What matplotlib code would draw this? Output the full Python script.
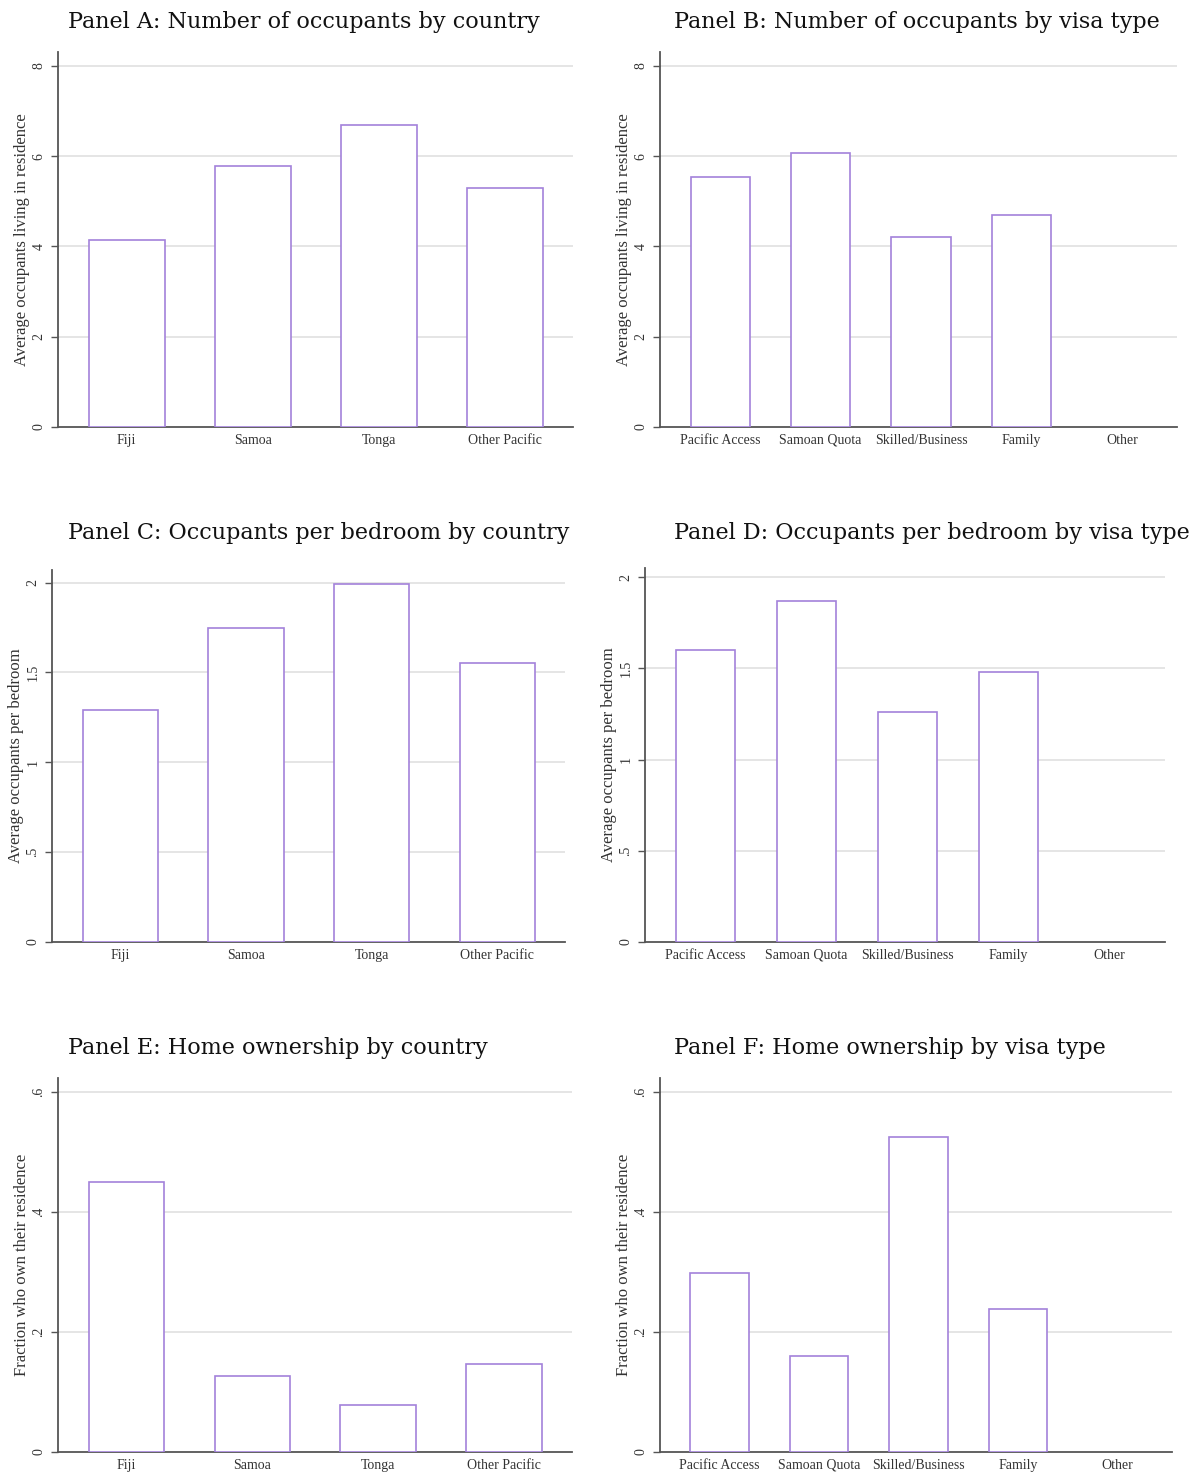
import matplotlib
matplotlib.use("Agg")
import matplotlib.pyplot as plt

# categorias
paises = ["Fiji", "Samoa", "Tonga", "Other Pacific"]
visas = ["Pacific Access", "Samoan Quota", "Skilled/Business", "Family", "Other"]

# valores
ocup_pais = [4.15, 5.79, 6.70, 5.30]
ocup_visa = [5.54, 6.08, 4.21, 4.70, 0.0]
dorm_pais = [1.29, 1.75, 1.99, 1.55]
dorm_visa = [1.60, 1.87, 1.26, 1.48, 0.0]
prop_pais = [0.450, 0.127, 0.078, 0.147]
prop_visa = [0.298, 0.160, 0.525, 0.238, 0.0]

titulos = ["Panel A: Number of occupants by country",
           "Panel B: Number of occupants by visa type",
           "Panel C: Occupants per bedroom by country",
           "Panel D: Occupants per bedroom by visa type",
           "Panel E: Home ownership by country",
           "Panel F: Home ownership by visa type"]
ylabels = ["Average occupants living in residence",
           "Average occupants living in residence",
           "Average occupants per bedroom",
           "Average occupants per bedroom",
           "Fraction who own their residence",
           "Fraction who own their residence"]
yticks = [[0, 2, 4, 6, 8], [0, 2, 4, 6, 8],
          [0, 0.5, 1, 1.5, 2], [0, 0.5, 1, 1.5, 2],
          [0, 0.2, 0.4, 0.6], [0, 0.2, 0.4, 0.6]]
yticklabels = [["0", "2", "4", "6", "8"], ["0", "2", "4", "6", "8"],
               ["0", ".5", "1", "1.5", "2"], ["0", ".5", "1", "1.5", "2"],
               ["0", ".2", ".4", ".6"], ["0", ".2", ".4", ".6"]]
ytops = [8.31, 8.31, 2.07, 2.05, 0.623, 0.623]

W, H = 1197, 1475
# cajas de ejes en pixeles: izq, der, arriba, abajo
cajas = [(58, 573, 52, 427), (660, 1177, 52, 427),
         (52, 565, 570, 942), (645, 1165, 568, 942),
         (58, 572, 1078, 1452), (660, 1172, 1078, 1452)]
titulo_x = [68, 674, 68, 674, 68, 674]
titulo_y = [22, 22, 533, 533, 1048, 1048]

PURPURA = "#a382da"
SERIF = "Liberation Serif"

fig = plt.figure(figsize=(W / 100, H / 100), dpi=100)

datos = [ocup_pais, ocup_visa, dorm_pais, dorm_visa, prop_pais, prop_visa]
for i in range(6):
    l, r, t, b = cajas[i]
    ax = fig.add_axes([l / W, 1 - b / H, (r - l) / W, (b - t) / H])
    cats = paises if i % 2 == 0 else visas
    x = list(range(len(cats)))
    vals = datos[i]
    ancho = 0.6 if i % 2 == 0 else 0.59
    for xi, v in zip(x, vals):
        if v > 0:
            ax.bar(xi, v, width=ancho, color="white", edgecolor=PURPURA, linewidth=1.2, zorder=3)
    if i % 2 == 0:
        ax.set_xlim(-0.545, 3.54)
    else:
        ax.set_xlim(-0.6, 4.55)
    ax.set_ylim(0, ytops[i])
    ax.set_yticks(yticks[i])
    ax.set_yticklabels(yticklabels[i], rotation=90, va="center", fontfamily=SERIF, fontsize=10, color="#333333")
    ax.set_xticks(x)
    ax.set_xticklabels(cats, fontfamily=SERIF, fontsize=10, color="#333333")
    ax.tick_params(axis="x", length=0, pad=5)
    ax.tick_params(axis="y", length=5, width=1, color="#555555", pad=4)
    for yt in yticks[i][1:]:
        ax.axhline(yt, color="#e3e3e3", linewidth=1.3, zorder=1)
    for s in ["top", "right"]:
        ax.spines[s].set_visible(False)
    for s in ["left", "bottom"]:
        ax.spines[s].set_color("#555555")
        ax.spines[s].set_linewidth(1.3)
    ax.set_ylabel(ylabels[i], fontfamily=SERIF, fontsize=12, color="#333333", labelpad=2)
    fig.text(titulo_x[i] / W, 1 - titulo_y[i] / H, titulos[i], ha="left", va="center",
             fontfamily="DejaVu Serif", fontsize=16, color="#111111")

fig.savefig("out.png", dpi=100, facecolor="white")
